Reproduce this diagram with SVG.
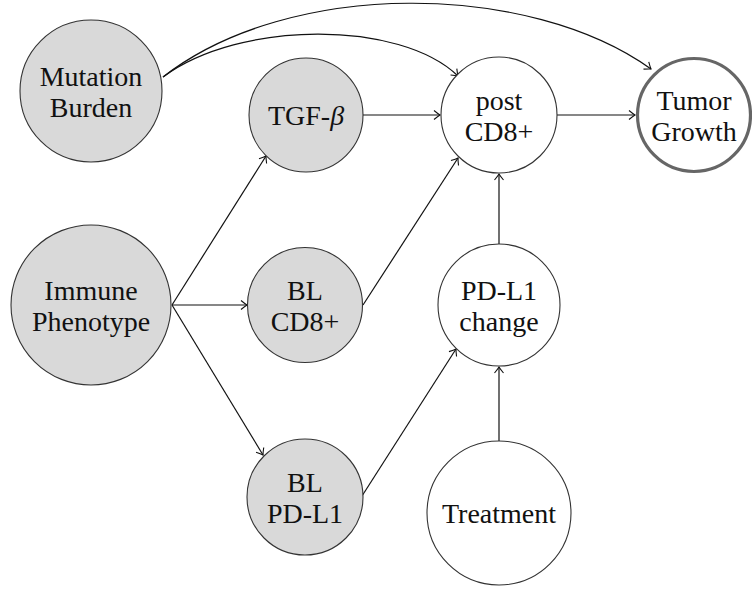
<svg xmlns="http://www.w3.org/2000/svg" width="752" height="590" viewBox="0 0 752 590">
<style>
.n{stroke:#333;stroke-width:1.1}
.g{fill:#d9d9d9}
.w{fill:#fff}
.t{font-family:'Liberation Serif','Times New Roman',serif;font-size:28px;fill:#111;text-anchor:middle}
.e{fill:none;stroke:#111;stroke-width:1.2;marker-end:url(#ah)}
</style>
<defs>
<marker id="ah" viewBox="-8 -6 10 12" markerWidth="10" markerHeight="12" refX="0" refY="0" orient="auto" markerUnits="userSpaceOnUse">
<path d="M-6,-4.5 Q-2,-1.2 0,0 Q-2,1.2 -6,4.5" fill="none" stroke="#111" stroke-width="1.1"/>
</marker>
</defs>
<g id="edges">
<path class="e" d="M163,77 C240,20 400,20 458,76"/>
<path class="e" d="M163,77 C290,-22 530,-18 651,69"/>
<path class="e" d="M172,305 L266,156"/>
<path class="e" d="M172,305 L247,305"/>
<path class="e" d="M172,305 L263,455"/>
<path class="e" d="M363,115 L440,115"/>
<path class="e" d="M363,305 L458,158"/>
<path class="e" d="M362,496 L456,349"/>
<path class="e" d="M557,115 L635,115"/>
<path class="e" d="M499,244 L499,174"/>
<path class="e" d="M499,441 L499,367"/>
</g>
<g id="mutation-burden">
<circle class="n g" cx="91" cy="91" r="71"/>
<text class="t" x="91" y="85.5">Mutation</text>
<text class="t" x="91" y="116.5">Burden</text>
</g>
<g id="immune-phenotype">
<circle class="n g" cx="91" cy="305" r="80"/>
<text class="t" x="91" y="299.5">Immune</text>
<text class="t" x="91" y="330.5">Phenotype</text>
</g>
<g id="tgf-beta">
<circle class="n g" cx="306" cy="115" r="57"/>
<text class="t" x="306" y="125">TGF-<tspan font-style="italic">β</tspan></text>
</g>
<g id="bl-cd8">
<circle class="n g" cx="305" cy="305" r="57.5"/>
<text class="t" x="305" y="299.5">BL</text>
<text class="t" x="305" y="330.5">CD8+</text>
</g>
<g id="bl-pdl1">
<circle class="n g" cx="305" cy="497" r="58"/>
<text class="t" x="305" y="491.5">BL</text>
<text class="t" x="305" y="522.5">PD-L1</text>
</g>
<g id="post-cd8">
<circle class="n w" cx="499" cy="115" r="58"/>
<text class="t" x="499" y="109.5">post</text>
<text class="t" x="499" y="140.5">CD8+</text>
</g>
<g id="pdl1-change">
<circle class="n w" cx="499" cy="305" r="61"/>
<text class="t" x="499" y="299.5">PD-L1</text>
<text class="t" x="499" y="330.5">change</text>
</g>
<g id="treatment">
<circle class="n w" cx="499" cy="513" r="72"/>
<text class="t" x="499" y="523">Treatment</text>
</g>
<g id="tumor-growth">
<circle class="w" cx="694" cy="115" r="56.5" stroke="#666" stroke-width="3.2"/>
<text class="t" x="694" y="109.5">Tumor</text>
<text class="t" x="694" y="140.5">Growth</text>
</g>
</svg>
